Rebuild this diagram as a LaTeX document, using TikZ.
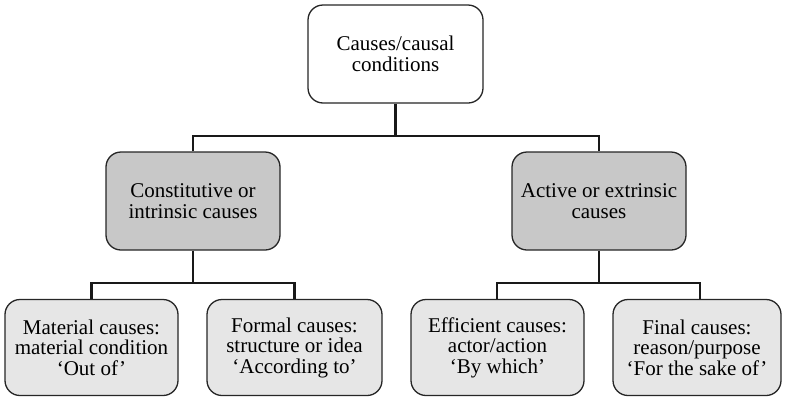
\documentclass[tikz,border=0pt]{standalone}
\usepackage{fontspec}
\setmainfont{Liberation Serif}
\definecolor{midgray}{RGB}{200,200,200}
\definecolor{lightgray2}{RGB}{230,230,230}
\tikzset{
  box/.style={draw=black!85, line width=1.3pt, rounded corners=15pt, align=center,
    inner sep=2pt, font=\fontsize{21}{20.5}\selectfont},
  topbox/.style={box, fill=white, minimum width=175pt, minimum height=98pt},
  midbox/.style={box, fill=midgray, minimum width=174pt, minimum height=98pt},
  lowbox/.style={box, fill=lightgray2, minimum width=173pt, minimum height=96pt},
  conn/.style={draw=black!90, line width=2.5pt}
}
\begin{document}
\begin{tikzpicture}[x=1pt,y=-1pt]
\useasboundingbox (0,0) rectangle (785,397);
\node[topbox] (top) at (395.5,54) {Causes/causal\\conditions};
\node[midbox] (L) at (193,201) {Constitutive or\\intrinsic causes};
\node[midbox] (R) at (599,201) {Active or extrinsic\\causes};
\node[lowbox] (B1) at (91.5,347.5) {Material causes:\\material condition\\‘Out of’};
\node[lowbox, minimum width=175pt] (B2) at (294.5,347.5) {Formal causes:\\structure or idea\\‘According to’};
\node[lowbox] (B3) at (497.5,347.5) {Efficient causes:\\actor/action\\‘By which’};
\node[lowbox, minimum width=168pt] (B4) at (697,347.5) {Final causes:\\reason/purpose\\‘For the sake of’};
\coordinate (j0) at (395.5,136);
\coordinate (jL) at (193,283);
\coordinate (jR) at (599,283);
\draw[conn] (top.south) -- (j0);
\draw[conn] (L.north) |- (j0) -| (R.north);
\draw[conn] (L.south) -- (jL);
\draw[conn] (B1.north) |- (jL) -| (B2.north);
\draw[conn] (R.south) -- (jR);
\draw[conn] ([xshift=-0.5pt]B3.north) |- (jR) -| ([xshift=3pt]B4.north);
\end{tikzpicture}
\end{document}
